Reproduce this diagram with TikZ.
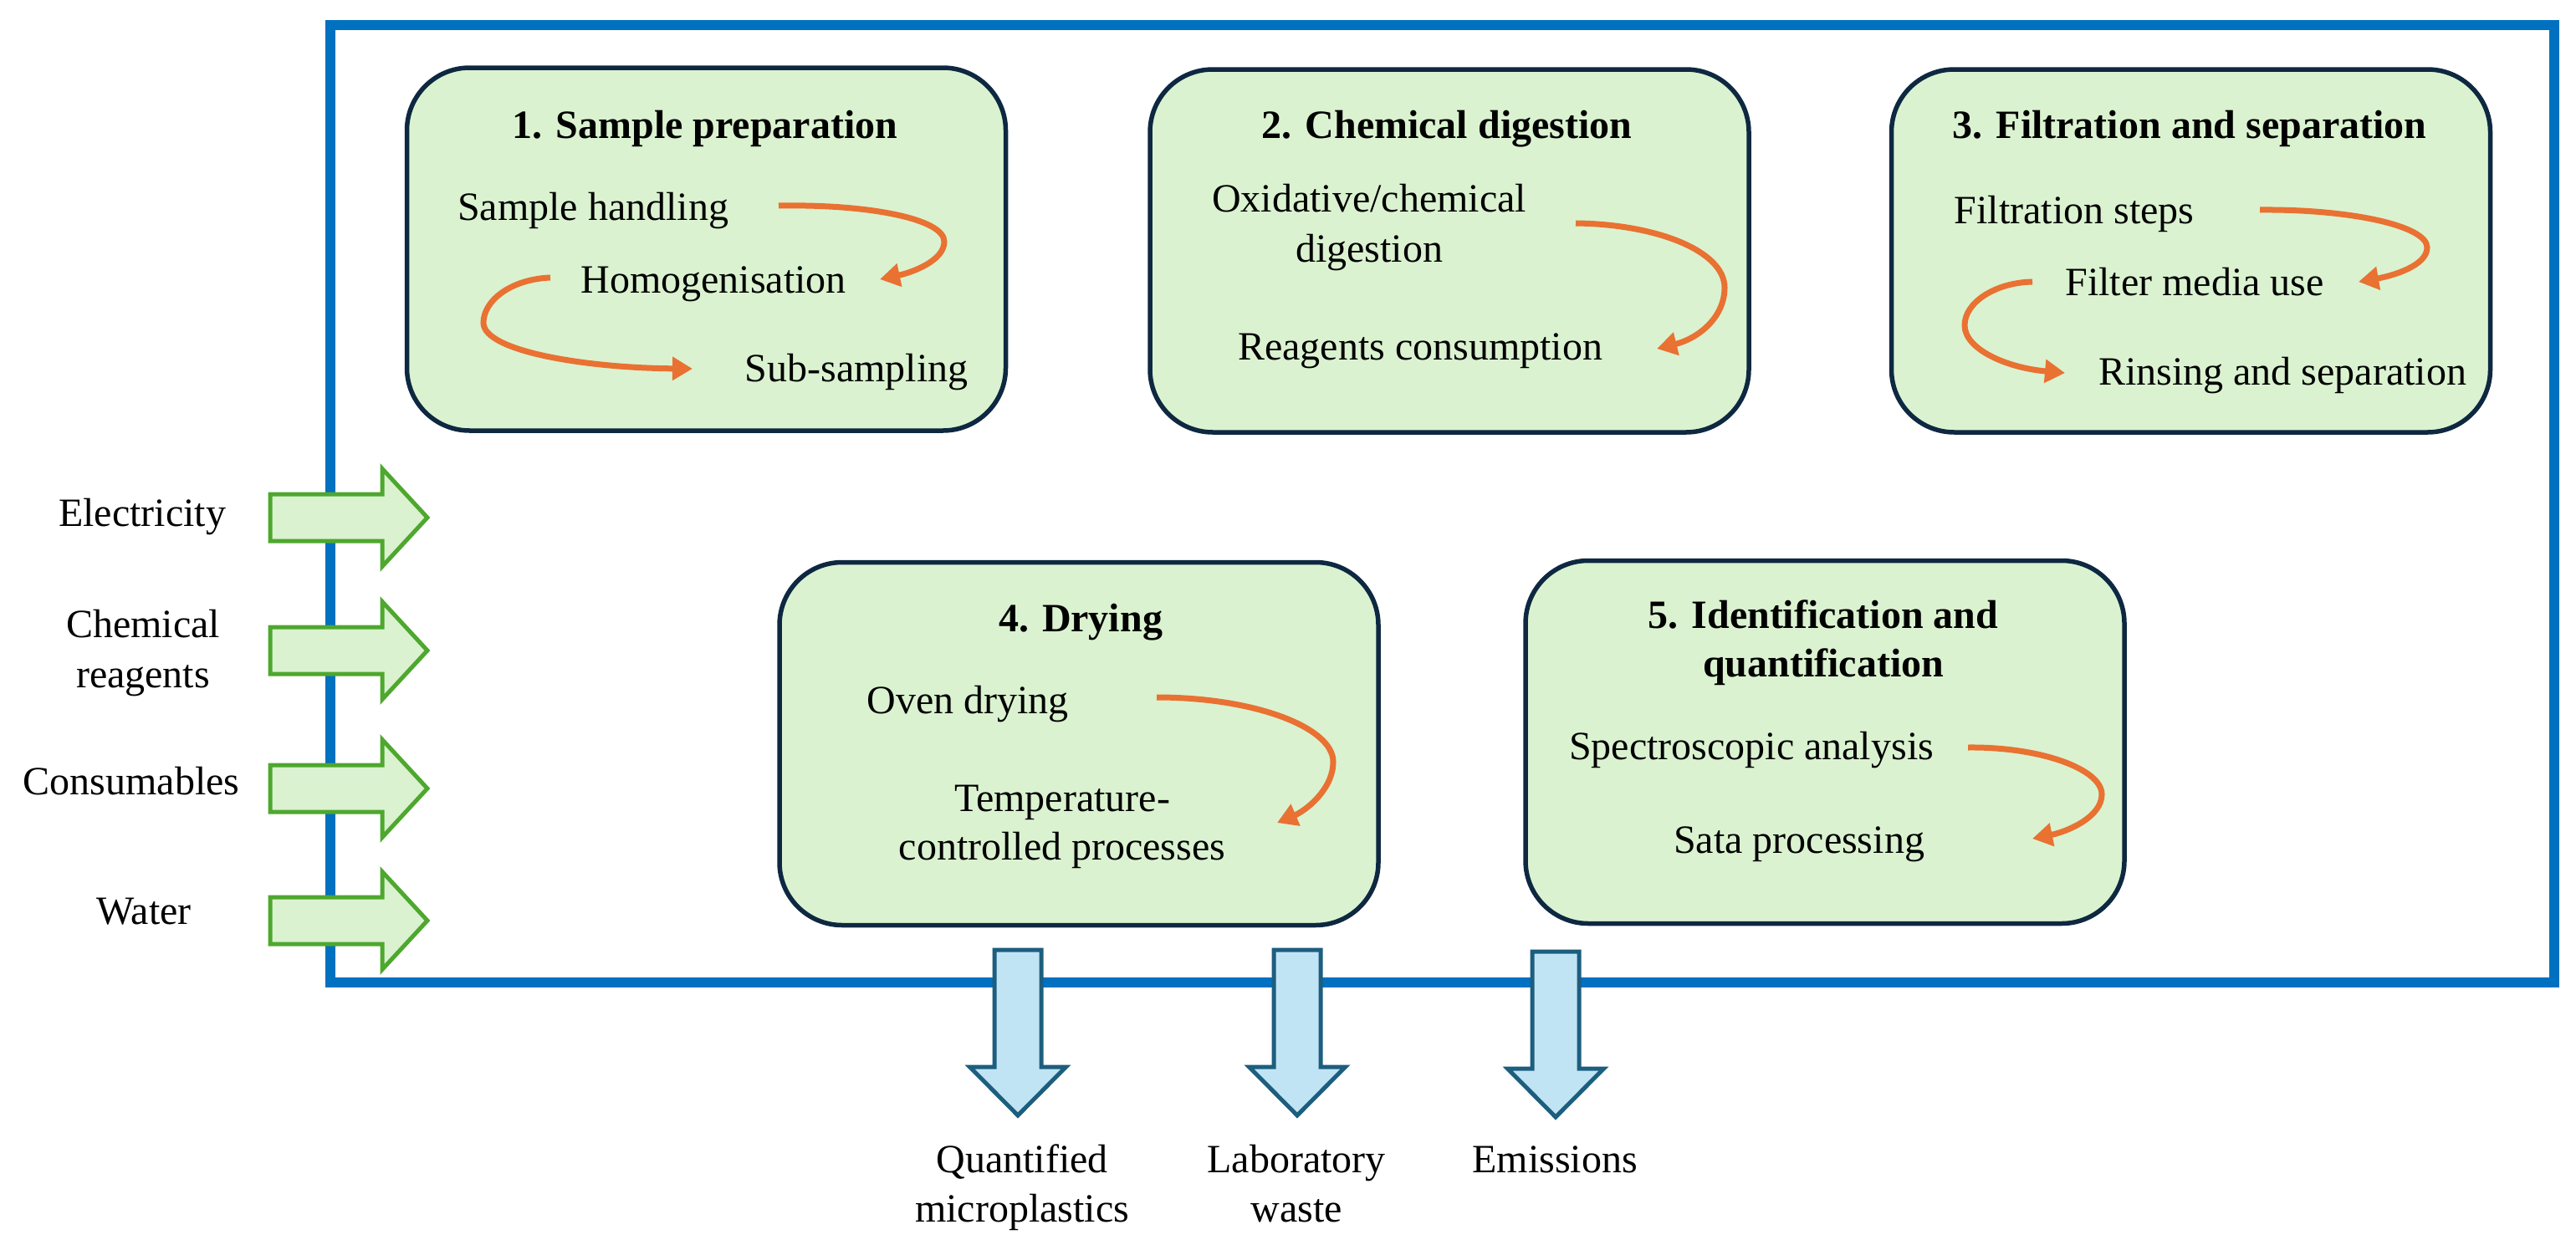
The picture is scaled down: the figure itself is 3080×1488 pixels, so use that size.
\documentclass[tikz,border=0pt]{standalone}
\usepackage{fontspec}
\setmainfont{Liberation Serif}
\usetikzlibrary{arrows.meta}
\definecolor{frameblue}{HTML}{0070C0}
\definecolor{navy}{HTML}{0E2841}
\definecolor{boxgreen}{HTML}{DAF2D0}
\definecolor{ingreen}{HTML}{4EA72E}
\definecolor{flowor}{HTML}{E97132}
\definecolor{outline}{HTML}{1D5E7E}
\definecolor{outfill}{HTML}{C1E4F5}
\tikzset{
  stagebox/.style={draw=navy, line width=5.5pt, fill=boxgreen, rounded corners=75pt,
    minimum width=716pt, minimum height=434pt, inner sep=0pt},
  frame/.style={draw=frameblue, line width=12pt, minimum width=2659pt, minimum height=1145pt, inner sep=0pt},
  lbl/.style={anchor=base, inner sep=0pt, font=\fontsize{48}{59}\selectfont},
  ttl/.style={lbl, font=\fontsize{48}{59}\selectfont\bfseries},
  flow/.style={draw=flowor, line width=7pt, -{Triangle[length=24pt,width=27pt]}},
  inarrow/.pic={\draw[draw=ingreen, fill=boxgreen, line width=5pt, line join=miter]
     (-94,-28) -- (40,-28) -- (40,-58.5) -- (94,0) -- (40,58.5) -- (40,28) -- (-94,28) -- cycle;},
  outarrow/.pic={\draw[draw=outline, fill=outfill, line width=5pt, line join=miter]
     (-28,-99) -- (-28,41) -- (-57.5,41) -- (0,99) -- (57.5,41) -- (28,41) -- (28,-99) -- cycle;}
}
\begin{document}
\begin{tikzpicture}[x=1pt,y=-1pt]
\useasboundingbox (0,0) rectangle (3080,1488);

% system boundary
\node[frame] (system) at (1724.5,602.5) {};

% input arrows
\pic at (417,619) {inarrow};
\pic at (417,778) {inarrow};
\pic at (417,943) {inarrow};
\pic at (417,1101) {inarrow};

% output arrows
\pic at (1217,1235) {outarrow};
\pic at (1551,1235) {outarrow};
\pic at (1860,1237) {outarrow};

% stage boxes
\node[stagebox] (box1) at (844.5,298) {};
\node[stagebox] (box2) at (1733,300) {};
\node[stagebox] (box3) at (2619.5,300) {};
\node[stagebox] (box4) at (1290,889.5) {};
\node[stagebox] (box5) at (2182,887.5) {};

% box 1
\node[ttl] (h1) at (843,165) {1. Sample preparation};
\node[lbl] (s1a) at (709,263) {Sample handling};
\node[lbl] (s1b) at (853,350) {Homogenisation};
\node[lbl] (s1c) at (1024,456) {Sub-sampling};
\coordinate (a1s) at (931,246);
\coordinate (a1e) at (1052,334);
\coordinate (a2s) at (658,332);
\coordinate (a2e) at (828,441);
\draw[flow] (a1s) .. controls (1040,244) and (1129,262) .. (1129,289)
  .. controls (1129,312) and (1090,326) .. (a1e);
\draw[flow] (a2s) .. controls (610,334) and (578,360) .. (578,386)
  .. controls (578,420) and (700,440) .. (a2e);

% box 2
\node[ttl] (h2) at (1730,165) {2. Chemical digestion};
\node[lbl] (s2a) at (1637,253) {Oxidative/chemical};
\node[lbl] (s2a2) at (1637,313) {digestion};
\node[lbl] (s2b) at (1698,430) {Reagents consumption};
\coordinate (b1s) at (1884,267);
\coordinate (b1e) at (1981,417);
\draw[flow] (b1s) .. controls (1980,268) and (2062,300) .. (2062,344)
  .. controls (2062,380) and (2030,405) .. (b1e);

% box 3
\node[ttl] (h3) at (2618,165) {3. Filtration and separation};
\node[lbl] (s3a) at (2480,267) {Filtration steps};
\node[lbl] (s3b) at (2624,353) {Filter media use};
\node[lbl] (s3c) at (2729,460) {Rinsing and separation};
\coordinate (c1s) at (2702,251);
\coordinate (c1e) at (2820,337);
\coordinate (c2s) at (2430,337);
\coordinate (c2e) at (2469,446);
\draw[flow] (c1s) .. controls (2810,250) and (2902,270) .. (2902,296)
  .. controls (2902,318) and (2860,330) .. (c1e);
\draw[flow] (c2s) .. controls (2385,338) and (2349,362) .. (2349,389)
  .. controls (2349,418) and (2400,440) .. (c2e);

% box 4
\node[ttl] (h4) at (1292,755) {4. Drying};
\node[lbl] (s4a) at (1157,853) {Oven drying};
\node[lbl] (s4b) at (1270,970) {Temperature-};
\node[lbl] (s4b2) at (1270,1028) {controlled processes};
\coordinate (d1s) at (1383,834);
\coordinate (d1e) at (1527,984);
\draw[flow] (d1s) .. controls (1500,834) and (1594,870) .. (1594,911)
  .. controls (1594,945) and (1560,970) .. (d1e);

% box 5
\node[ttl] (h5) at (2180,751) {5. Identification and};
\node[ttl] (h5b) at (2180,809) {quantification};
\node[lbl] (s5a) at (2094,908) {Spectroscopic analysis};
\node[lbl] (s5b) at (2151,1020) {Sata processing};
\coordinate (e1s) at (2353,894);
\coordinate (e1e) at (2430,1003);
\draw[flow] (e1s) .. controls (2440,893) and (2513,920) .. (2513,950)
  .. controls (2513,978) and (2470,995) .. (e1e);

% inputs
\node[lbl] (in1) at (170,629) {Electricity};
\node[lbl] (in2) at (171,762) {Chemical};
\node[lbl] (in2b) at (171,822) {reagents};
\node[lbl] (in3) at (157,950) {Consumables};
\node[lbl] (in4) at (172,1105) {Water};

% outputs
\node[lbl] (out1) at (1222,1402) {Quantified};
\node[lbl] (out1b) at (1222,1461) {microplastics};
\node[lbl] (out2) at (1550,1402) {Laboratory};
\node[lbl] (out2b) at (1550,1461) {waste};
\node[lbl] (out3) at (1859,1402) {Emissions};
\end{tikzpicture}
\end{document}
